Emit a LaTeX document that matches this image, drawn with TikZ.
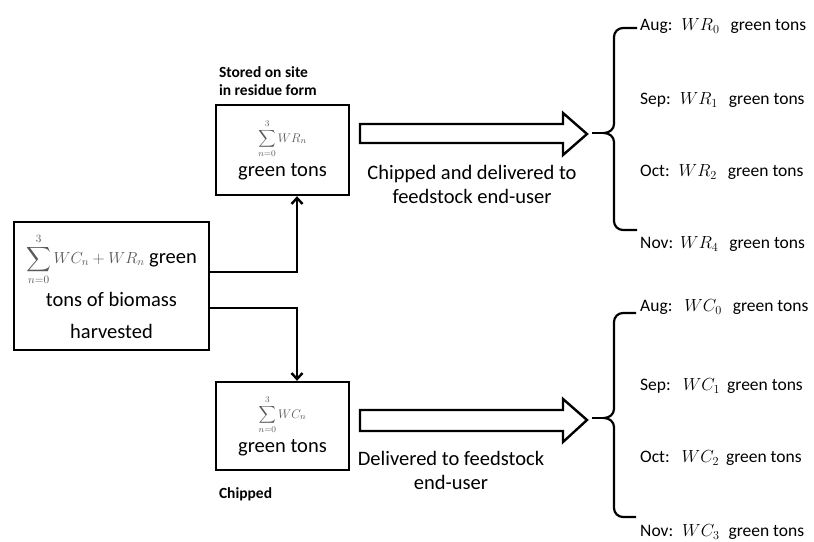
\RequirePackage{fix-cm}
\documentclass[tikz,border=0pt]{standalone}
\usepackage{amsmath}
\usepackage{fontspec}
\setmainfont{Carlito}
\usetikzlibrary{positioning,arrows.meta}

\tikzset{
  box/.style={draw, line width=2.4pt, align=center, inner sep=0pt},
  hollow/.style={draw, line width=2.4pt, line join=miter},
  link/.style={line width=2.4pt, -{Straight Barb[length=6pt,width=11pt]}},
  bracepath/.style={line width=2.2pt},
  note/.style={font=\fontsize{15.5}{18}\selectfont\bfseries, align=left, inner sep=0pt},
  flowtext/.style={font=\fontsize{20.5}{24}\selectfont, align=center, inner sep=0pt},
  month/.style={font=\fontsize{17.5}{20}\selectfont, anchor=west, inner sep=0pt},
}
\newcommand{\graysum}[2]{{\color{black!65}\fontsize{#1}{#1}\selectfont$\displaystyle\sum_{n=0}^{3}#2$}}

\begin{document}
\begin{tikzpicture}[x=1pt,y=-1pt]
  \useasboundingbox (0,0) rectangle (814,541);

  % boxes
  \node[box, minimum width=195pt, minimum height=128pt,
        font=\fontsize{20.5}{24}\selectfont] (harvest) at (111.5,286)
    {\graysum{16}{WC_n + WR_n}\ green\\[6pt] tons of biomass\\[8pt] harvested};
  \node[box, minimum width=133pt, minimum height=90pt,
        font=\fontsize{20.5}{24}\selectfont] (stored) at (282.5,150)
    {\graysum{12.5}{WR_n}\\[5pt] green tons};
  \node[box, minimum width=133pt, minimum height=88pt,
        font=\fontsize{20.5}{24}\selectfont] (chipped) at (282.5,426)
    {\graysum{12.5}{WC_n}\\[5pt] green tons};

  \node[note, above right=8pt and 4pt of stored.north west, anchor=south west] (storednote)
    {Stored on site\\in residue form};
  \node[note, below right=16pt and 4pt of chipped.south west, anchor=north west] (chippednote)
    {Chipped};

  % split of the harvest
  \draw[link] ([yshift=14pt]harvest.east) -| ([xshift=14.5pt]stored.south);
  \draw[link] ([yshift=-22pt]harvest.east) -| ([xshift=14.5pt]chipped.north);

  % hollow arrows
  \draw[hollow] (360,124) -- (563,124) -- (563,113) -- (587,134) -- (563,155)
    -- (563,143) -- (360,143) -- cycle;
  \draw[hollow] (360,410) -- (563,410) -- (563,399) -- (587,420) -- (563,442)
    -- (563,431) -- (360,431) -- cycle;
  \coordinate (toptip) at (592,133);
  \coordinate (bottip) at (592,418);
  \coordinate (topbrace) at (604,133);
  \coordinate (botbrace) at (604,418);

  \node[flowtext] (toptext) at (472,184) {Chipped and delivered to\\feedstock end-user};
  \node[flowtext] (bottext) at (451,470) {Delivered to feedstock\\end-user};

  % braces
  \draw[bracepath] (toptip) -- (topbrace);
  \draw[bracepath] (bottip) -- (botbrace);
  \draw[bracepath] (637,28) -- (623,28) to[out=180,in=90] (614,37) -- (614,124)
    to[out=-90,in=0] (topbrace) to[out=0,in=90] (614,142) -- (614,221)
    to[out=-90,in=180] (623,230) -- (637,230);
  \draw[bracepath] (636,313) -- (623,313) to[out=180,in=90] (614,322) -- (614,409)
    to[out=-90,in=0] (botbrace) to[out=0,in=90] (614,427) -- (614,508)
    to[out=-90,in=180] (623,517) -- (636,517);

  % monthly amounts
  \node[month] (aug r) at (640,26)  {Aug:\hspace{9pt}$WR_0$\hspace{11pt}green tons};
  \node[month] (sep r) at (640,100) {Sep:\hspace{9pt}$WR_1$\hspace{11pt}green tons};
  \node[month] (oct r) at (640,172) {Oct:\hspace{9pt}$WR_2$\hspace{11pt}green tons};
  \node[month] (nov r) at (640,244) {Nov:\hspace{7pt}$WR_4$\hspace{11pt}green tons};
  \node[month] (aug c) at (640,307) {Aug:\hspace{12pt}$WC_0$\hspace{11pt}green tons};
  \node[month] (sep c) at (640,386) {Sep:\hspace{12pt}$WC_1$\hspace{7pt}green tons};
  \node[month] (oct c) at (640,458) {Oct:\hspace{12pt}$WC_2$\hspace{7pt}green tons};
  \node[month] (nov c) at (640,532) {Nov:\hspace{9pt}$WC_3$\hspace{9pt}green tons};
\end{tikzpicture}
\end{document}
